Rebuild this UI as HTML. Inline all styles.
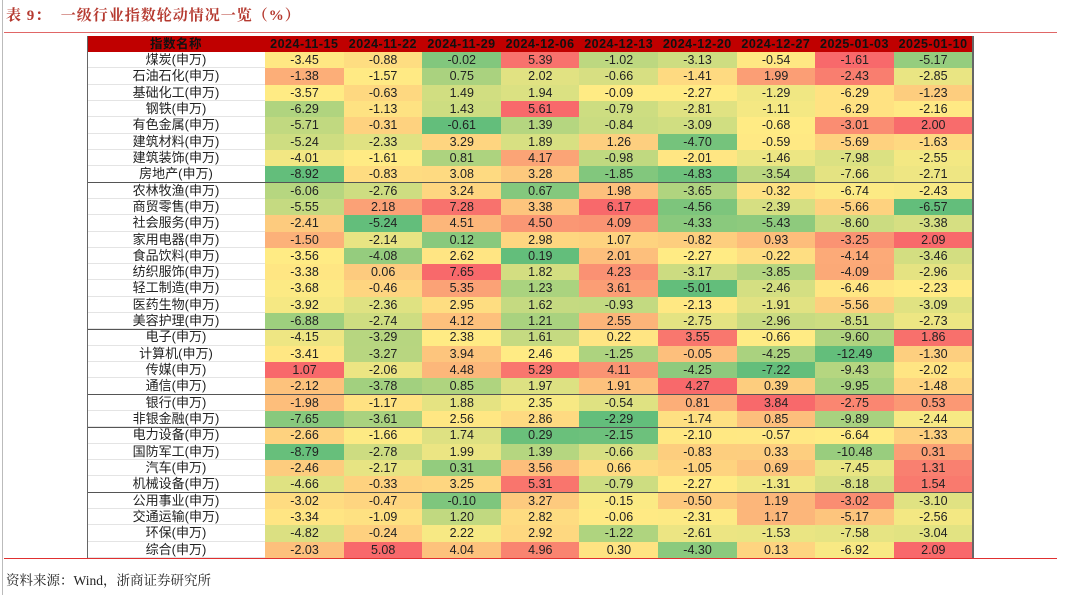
<!DOCTYPE html>
<html><head><meta charset="utf-8">
<style>
body{margin:0;width:1080px;height:595px;background:#fff;position:relative;overflow:hidden;font-family:"Liberation Sans","Noto Sans CJK SC",sans-serif;}
.abs{position:absolute;}
.cell{position:absolute;text-align:center;font-size:12.5px;color:#222;line-height:16px;box-sizing:border-box;}
.hd{position:absolute;text-align:center;font-size:12.5px;font-weight:bold;color:#111;line-height:16px;background:#c00000;letter-spacing:0.5px;}
</style></head><body>
<div class="abs" style="left:2px;top:0;width:1px;height:595px;background:#bbb"></div>
<div class="abs" style="left:6px;top:4px;font-family:'Liberation Serif','Noto Serif CJK SC',serif;font-size:15px;color:#b5392f;font-weight:bold;letter-spacing:1px">表 9：&nbsp; 一级行业指数轮动情况一览（%）</div>
<div class="abs" style="left:4px;top:32px;width:1053px;height:1px;background:#e06666"></div>
<div id="tbl"></div>
<div class="abs" style="left:4px;top:558px;width:1053px;height:1px;background:#e03030"></div>
<div class="abs" style="left:6px;top:569px;font-family:'Liberation Serif','Noto Serif CJK SC',serif;font-size:13.5px;color:#222">资料来源：Wind，浙商证券研究所</div>
<script>
const dates=["2024-11-15","2024-11-22","2024-11-29","2024-12-06","2024-12-13","2024-12-20","2024-12-27","2025-01-03","2025-01-10"];
const industries=["煤炭","石油石化","基础化工","钢铁","有色金属","建筑材料","建筑装饰","房地产","农林牧渔","商贸零售","社会服务","家用电器","食品饮料","纺织服饰","轻工制造","医药生物","美容护理","电子","计算机","传媒","通信","银行","非银金融","电力设备","国防军工","汽车","机械设备","公用事业","交通运输","环保","综合"];
const values=[
[-3.45,-0.88,-0.02,5.39,-1.02,-3.13,-0.54,-1.61,-5.17],
[-1.38,-1.57,0.75,2.02,-0.66,-1.41,1.99,-2.43,-2.85],
[-3.57,-0.63,1.49,1.94,-0.09,-2.27,-1.29,-6.29,-1.23],
[-6.29,-1.13,1.43,5.61,-0.79,-2.81,-1.11,-6.29,-2.16],
[-5.71,-0.31,-0.61,1.39,-0.84,-3.09,-0.68,-3.01,2.00],
[-5.24,-2.33,3.29,1.89,1.26,-4.70,-0.59,-5.69,-1.63],
[-4.01,-1.61,0.81,4.17,-0.98,-2.01,-1.46,-7.98,-2.55],
[-8.92,-0.83,3.08,3.28,-1.85,-4.83,-3.54,-7.66,-2.71],
[-6.06,-2.76,3.24,0.67,1.98,-3.65,-0.32,-6.74,-2.43],
[-5.55,2.18,7.28,3.38,6.17,-4.56,-2.39,-5.66,-6.57],
[-2.41,-5.24,4.51,4.50,4.09,-4.33,-5.43,-8.60,-3.38],
[-1.50,-2.14,0.12,2.98,1.07,-0.82,0.93,-3.25,2.09],
[-3.56,-4.08,2.62,0.19,2.01,-2.27,-0.22,-4.14,-3.46],
[-3.38,0.06,7.65,1.82,4.23,-3.17,-3.85,-4.09,-2.96],
[-3.68,-0.46,5.35,1.23,3.61,-5.01,-2.46,-6.46,-2.23],
[-3.92,-2.36,2.95,1.62,-0.93,-2.13,-1.91,-5.56,-3.09],
[-6.88,-2.74,4.12,1.21,2.55,-2.75,-2.96,-8.51,-2.73],
[-4.15,-3.29,2.38,1.61,0.22,3.55,-0.66,-9.60,1.86],
[-3.41,-3.27,3.94,2.46,-1.25,-0.05,-4.25,-12.49,-1.30],
[1.07,-2.06,4.48,5.29,4.11,-4.25,-7.22,-9.43,-2.02],
[-2.12,-3.78,0.85,1.97,1.91,4.27,0.39,-9.95,-1.48],
[-1.98,-1.17,1.88,2.35,-0.54,0.81,3.84,-2.75,0.53],
[-7.65,-3.61,2.56,2.86,-2.29,-1.74,0.85,-9.89,-2.44],
[-2.66,-1.66,1.74,0.29,-2.15,-2.10,-0.57,-6.64,-1.33],
[-8.79,-2.78,1.99,1.39,-0.66,-0.83,0.33,-10.48,0.31],
[-2.46,-2.17,0.31,3.56,0.66,-1.05,0.69,-7.45,1.31],
[-4.66,-0.33,3.25,5.31,-0.79,-2.27,-1.31,-8.18,1.54],
[-3.02,-0.47,-0.10,3.27,-0.15,-0.50,1.19,-3.02,-3.10],
[-3.34,-1.09,1.20,2.82,-0.06,-2.31,1.17,-5.17,-2.56],
[-4.82,-0.24,2.22,2.92,-1.22,-2.61,-1.53,-7.58,-3.04],
[-2.03,5.08,4.04,4.96,0.30,-4.30,0.13,-6.92,2.09]];
const groupEnds=[7,16,20,22,26];

const X0=87,NAMEW=178,COLW=78.6,Y0=36,HDH=16,ROWH=16.32;
const tbl=document.getElementById('tbl');
function colX(j){return X0+NAMEW+j*COLW;}
function rowY(i){return Y0+HDH+i*ROWH;}
function lerp(a,b,t){return a.map((v,k)=>Math.round(v+(b[k]-v)*t));}
const G=[99,190,123],Yl=[255,235,132],R=[248,105,107];
function color(v,mn,md,mx){
  if(v<=md){const t=md===mn?1:(v-mn)/(md-mn);return lerp(G,Yl,t);}
  const t=mx===md?1:(v-md)/(mx-md);return lerp(Yl,R,t);
}
function mk(cls,x,y,w,h,txt){const d=document.createElement('div');d.className=cls;d.style.left=x+'px';d.style.top=y+'px';d.style.width=w+'px';d.style.height=h+'px';if(txt!==undefined)d.textContent=txt;tbl.appendChild(d);return d;}
let h=mk('hd',X0,Y0,NAMEW,HDH,'指数名称');


dates.forEach((d,j)=>{const e=mk('hd',colX(j),Y0,COLW,HDH,d);

});
const stats=dates.map((_,j)=>{const c=values.map(r=>r[j]).slice().sort((a,b)=>a-b);const n=c.length;const md=n%2?c[(n-1)/2]:(c[n/2-1]+c[n/2])/2;return [c[0],md,c[n-1]];});
industries.forEach((name,i)=>{
  const y=rowY(i);
  const n=mk('cell',X0,y,NAMEW,ROWH,name+'(申万)');
  n.style.fontSize='13px';n.style.borderBottom='1px solid #e4e4e4';
  
  
  values[i].forEach((v,j)=>{
    const c=color(v,...stats[j]);
    const e=mk('cell',colX(j),y,COLW+0.5,ROWH+0.5,v.toFixed(2));
    e.style.background='rgb('+c.join(',')+')';
    
    
  });
});
groupEnds.forEach(i=>{const l=mk('abs',X0,rowY(i+1)-0.5,NAMEW+9*COLW,1);l.style.background='#555';

});
const lb=mk('abs',X0,Y0,1,HDH+31*ROWH);lb.style.background='#666';


const rb=mk('abs',X0+NAMEW+9*COLW,Y0,1.5,HDH+31*ROWH);rb.style.background='#666';


</script>
</body></html>
